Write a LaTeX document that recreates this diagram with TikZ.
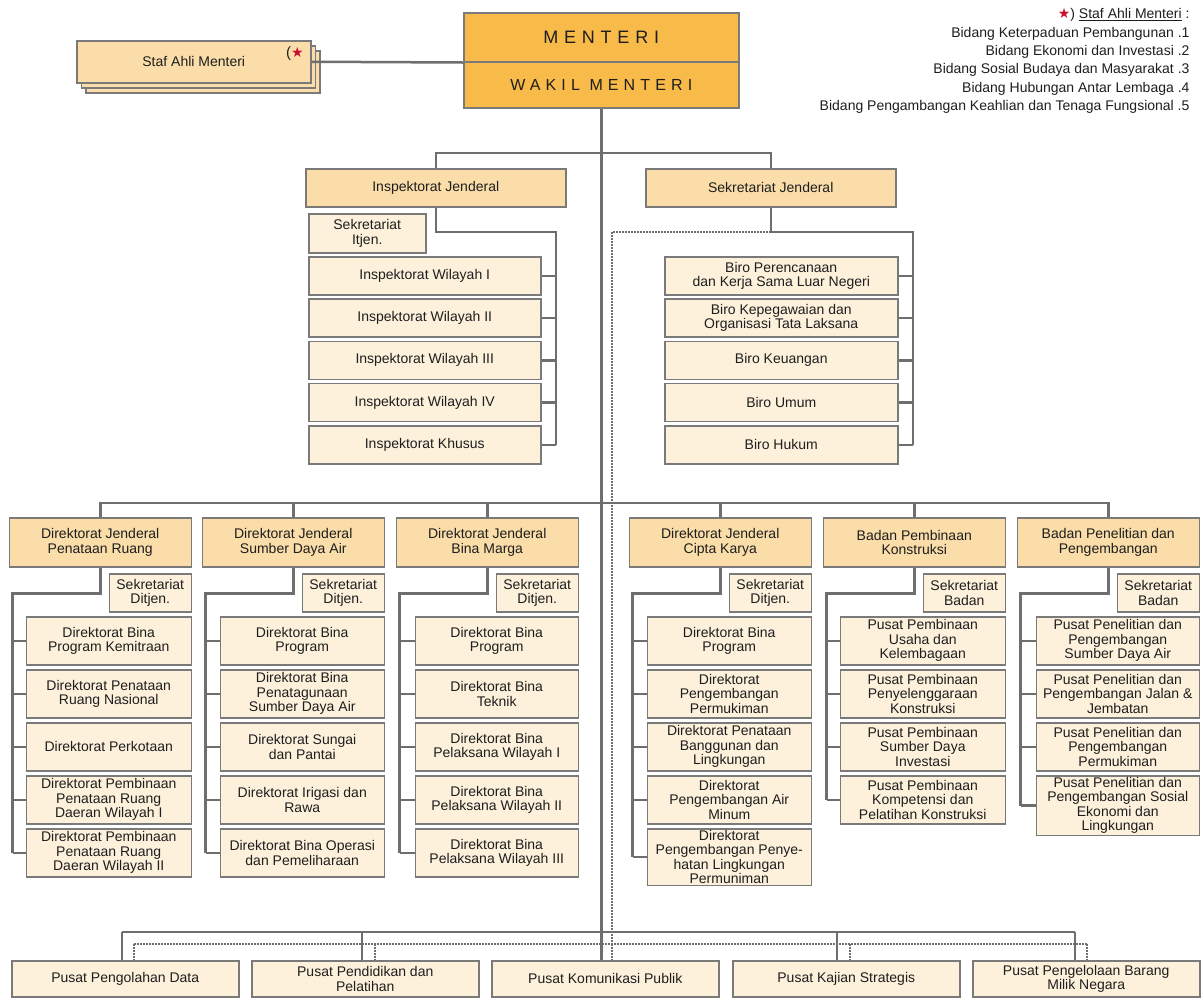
\documentclass[tikz,border=0pt]{standalone}
\usepackage{fontspec}
\setmainfont{Liberation Sans}
\newfontfamily\widefont[LetterSpace=32]{Liberation Sans}
\newfontfamily\symfont{DejaVu Sans}
\usetikzlibrary{shadows}

\definecolor{oranye}{HTML}{F8BA48}
\definecolor{peach}{HTML}{FADDA9}
\definecolor{krem}{HTML}{FDF1DC}
\definecolor{garis}{HTML}{6E6E6E}
\definecolor{bingkai}{HTML}{7A7A7A}
\definecolor{tinta}{HTML}{1E1E1E}
\definecolor{merah}{HTML}{C8102E}

\begin{document}
\begin{tikzpicture}[%
        x = 1pt, y = -1pt,
        box/.style = {%
            draw = bingkai, line width = 1.5pt, text = tinta,
            anchor = north west, align = center, inner sep = 1.5pt,
            font = \fontsize{14}{14.5}\selectfont
        },
        kepala/.style = {box, fill = peach},
        unit/.style = {box, fill = krem},
        conn/.style = {draw = garis, line width = 2.5pt},
        titik/.style = {draw = garis, line width = 2pt, densely dotted},
        catatan/.style = {anchor = east, font = \fontsize{14}{14}\selectfont, text = tinta}
    ]

        \useasboundingbox (0,0) rectangle (1201,997);

        % Menteri and wakil menteri.
        \node[box, fill = oranye, minimum width = 275pt, minimum height = 49pt,
            font = \widefont\fontsize{18}{20}\selectfont] (menteri) at (463,12) {MENTERI};
        \node[box, fill = oranye, minimum width = 275pt, minimum height = 46pt,
            font = \widefont\fontsize{16}{18}\selectfont] (wakil) at (463,61) {WAKIL MENTERI};

        % Staf ahli, a stack of three boxes.
        \node[kepala, minimum width = 234pt, minimum height = 42pt,
            double copy shadow = {shadow xshift = 4.5pt, shadow yshift = -5pt,
                fill = peach, draw = bingkai, line width = 1.5pt}] (staf) at (76,40) {Staf Ahli Menteri};
        \node[font = \fontsize{15}{15}\selectfont, text = tinta] (bintang) at (295,54)
            {(\textcolor{merah}{\symfont\fontsize{14}{14}\selectfont ★}};
        \draw[conn] (staf.east) -- (menteri.south west);

        % Legend for the staf ahli.
        \node[catatan] (leg0) at (1193,15)
            {\textcolor{merah}{\symfont\fontsize{14}{14}\selectfont ★}) \underline{Staf Ahli Menteri} :};
        \foreach \t [count = \i] in {Bidang Keterpaduan Pembangunan .1,
                Bidang Ekonomi dan Investasi .2,
                Bidang Sosial Budaya dan Masyarakat .3,
                Bidang Hubungan Antar Lembaga .4,
                Bidang Pengambangan Keahlian dan Tenaga Fungsional .5}{%
            \node[catatan] (leg\i) at (1193,15+18.4*\i) {\t};
        }

        % Inspektorat and sekretariat jenderal.
        \node[kepala, minimum width = 260pt, minimum height = 38pt] (ij) at (305,168) {Inspektorat Jenderal};
        \node[kepala, minimum width = 250pt, minimum height = 38pt] (sj) at (645,168) {Sekretariat Jenderal};
        \node[unit, minimum width = 117pt, minimum height = 39pt] (ijs) at (308,213) {Sekretariat\\Itjen.};
        \foreach \t [count = \i] in {Inspektorat Wilayah I, Inspektorat Wilayah II,
                Inspektorat Wilayah III, Inspektorat Wilayah IV, Inspektorat Khusus}{%
            \node[unit, minimum width = 232pt, minimum height = 38pt] (ij\i) at (308,213.75+42.25*\i) {\t};
        }
        \foreach \t [count = \i] in {{Biro Perencanaan\\dan Kerja Sama Luar Negeri},
                {Biro Kepegawaian dan\\Organisasi Tata Laksana},
                Biro Keuangan, Biro Umum, Biro Hukum}{%
            \node[unit, minimum width = 233pt, minimum height = 38pt] (sj\i) at (664,213.75+42.25*\i) {\t};
        }

        % Direktorat jenderal and badan.
        \foreach \k/\r/\t/\s in {pr/192/{Direktorat Jenderal\\Penataan Ruang}/Ditjen.,
                sda/385/{Direktorat Jenderal\\Sumber Daya Air}/Ditjen.,
                bm/579/{Direktorat Jenderal\\Bina Marga}/Ditjen.,
                ck/812/{Direktorat Jenderal\\Cipta Karya}/Ditjen.,
                bk/1006/{Badan Pembinaan\\Konstruksi}/Badan,
                lb/1200/{Badan Penelitian dan\\Pengembangan}/Badan}{%
            \node[kepala, anchor = north east, minimum width = 182pt, minimum height = 49pt] (\k) at (\r,517) {\t};
            \node[unit, anchor = north east, minimum width = 82pt, minimum height = 38pt] (\k-sek) at (\r,573) {Sekretariat\\\s};
            \path (\k.south west) ++(4,26) coordinate (\k-v);
        }

        \foreach \t [count = \i] in {{Direktorat Bina\\Program Kemitraan},
                {Direktorat Penataan\\Ruang Nasional}, Direktorat Perkotaan,
                {Direktorat Pembinaan\\Penataan Ruang\\Daeran Wilayah I},
                {Direktorat Pembinaan\\Penataan Ruang\\Daeran Wilayah II}}{%
            \node[unit, anchor = north east, minimum width = 165pt, minimum height = 48pt] (pr\i) at (192,563+53*\i) {\t};
        }
        \foreach \t [count = \i] in {{Direktorat Bina\\Program},
                {Direktorat Bina\\Penatagunaan\\Sumber Daya Air},
                {Direktorat Sungai\\dan Pantai}, {Direktorat Irigasi dan\\Rawa},
                {Direktorat Bina Operasi\\dan Pemeliharaan}}{%
            \node[unit, anchor = north east, minimum width = 164pt, minimum height = 48pt] (sda\i) at (385,563+53*\i) {\t};
        }
        \foreach \t [count = \i] in {{Direktorat Bina\\Program}, {Direktorat Bina\\Teknik},
                {Direktorat Bina\\Pelaksana Wilayah I}, {Direktorat Bina\\Pelaksana Wilayah II},
                {Direktorat Bina\\Pelaksana Wilayah III}}{%
            \node[unit, anchor = north east, minimum width = 163pt, minimum height = 48pt] (bm\i) at (579,563+53*\i) {\t};
        }
        \foreach \t [count = \i] in {{Direktorat Bina\\Program},
                {Direktorat\\Pengembangan\\Permukiman},
                {Direktorat Penataan\\Banggunan dan\\Lingkungan},
                {Direktorat\\Pengembangan Air\\Minum},
                {Direktorat\\Pengembangan Penye-\\hatan Lingkungan\\Permuniman}}{%
            \node[unit, anchor = north east, minimum width = 164pt, minimum height = 48pt] (ck\i) at (812,563+53*\i) {\t};
        }
        \foreach \t [count = \i] in {{Pusat Pembinaan\\Usaha dan\\Kelembagaan},
                {Pusat Pembinaan\\Penyelenggaraan\\Konstruksi},
                {Pusat Pembinaan\\Sumber Daya\\Investasi},
                {Pusat Pembinaan\\Kompetensi dan\\Pelatihan Konstruksi}}{%
            \node[unit, anchor = north east, minimum width = 165pt, minimum height = 48pt] (bk\i) at (1006,563+53*\i) {\t};
        }
        \foreach \t [count = \i] in {{Pusat Penelitian dan\\Pengembangan\\Sumber Daya Air},
                {Pusat Penelitian dan\\Pengembangan Jalan \&\\Jembatan},
                {Pusat Penelitian dan\\Pengembangan\\Permukiman},
                {Pusat Penelitian dan\\Pengembangan Sosial\\Ekonomi dan\\Lingkungan}}{%
            \node[unit, anchor = north east, minimum width = 163pt, minimum height = 48pt] (lb\i) at (1200,563+53*\i) {\t};
        }

        % Pusat at the bottom.
        \foreach \x/\t [count = \i] in {11/Pusat Pengolahan Data,
                251/{Pusat Pendidikan dan\\Pelatihan},
                491/Pusat Komunikasi Publik,
                732/Pusat Kajian Strategis,
                972/{Pusat Pengelolaan Barang\\Milik Negara}}{%
            \node[unit, minimum width = 227pt, minimum height = 36pt] (p\i) at (\x,960) {\t};
        }

        % Solid lines for the line of command.
        \draw[conn] (wakil.south) -- (wakil.south |- p3.north);
        \draw[conn] (ij.north) -- ++(0,-15) -| (sj.north);

        \coordinate (ijv) at (556,232);
        \coordinate (sjv) at (913,232);
        \draw[conn] (ij.south) |- (ijv) -- (ijv |- ij5.east);
        \draw[conn] (sj.south) |- (sjv) -- (sjv |- sj5.east);
        \foreach \i in {1,...,5}{%
            \draw[conn] (ijv |- ij\i.east) -- (ij\i.east);
            \draw[conn] (sjv |- sj\i.east) -- (sj\i.east);
        }

        \draw[conn] (pr.north) -- ++(0,-14) -| (lb.north);
        \foreach \k/\n in {pr/5, sda/5, bm/5, ck/5, bk/4, lb/4}{%
            \draw[conn] (\k.north) -- ++(0,-14);
            \draw[conn] (\k.south) |- (\k-v) -- (\k-v |- \k\n.west);
            \foreach \i in {1,...,\n}{%
                \draw[conn] (\k-v |- \k\i.west) -- (\k\i.west);
            }
        }

        \foreach \x/\u [count = \i] in {122/134, 362/375, 601/612, 837/850, 1075/1087}{%
            \coordinate (s\i) at (\x,932);
            \coordinate (d\i) at (\u,944);
        }
        \draw[conn] (s1) -- (s5);
        \foreach \i in {1, 2, 4, 5}{%
            \draw[conn] (s\i) -- (s\i |- p\i.north);
        }

        % Dotted lines for coordination.
        \draw[titik] (sj.south |- sjv) -| (d3);
        \draw[titik] (d1) -- (d5);
        \foreach \i in {1,...,5}{%
            \draw[titik] (d\i) -- (d\i |- p\i.north);
        }
    \end{tikzpicture}
\end{document}
